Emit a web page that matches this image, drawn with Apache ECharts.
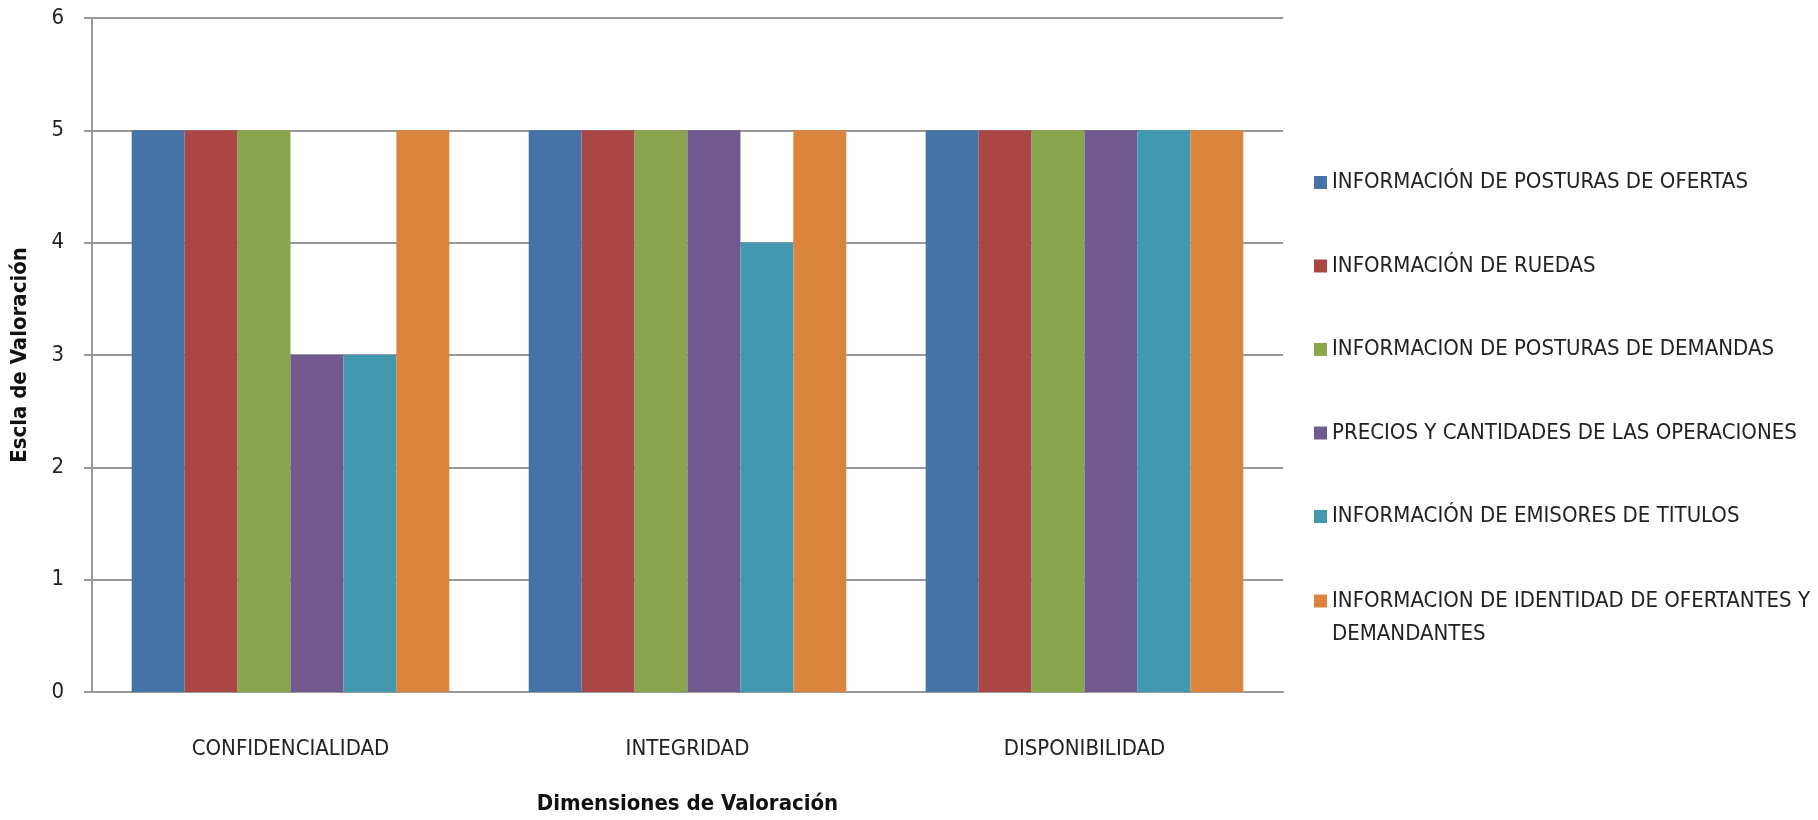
<!DOCTYPE html>
<html>
<head>
<meta charset="utf-8">
<script src="https://cdn.jsdelivr.net/npm/echarts@6/dist/echarts.min.js"></script>
<style>
  html, body { margin: 0; padding: 0; background: #fff; }
  #main { width: 1818px; height: 820px; }
</style>
</head>
<body>
<div id="main"></div>
<script>
  // datos del gráfico
  const dimensiones = ['CONFIDENCIALIDAD', 'INTEGRIDAD', 'DISPONIBILIDAD'];
  const activos = [
    'INFORMACIÓN DE POSTURAS DE OFERTAS',
    'INFORMACIÓN DE RUEDAS',
    'INFORMACION DE POSTURAS DE DEMANDAS',
    'PRECIOS Y CANTIDADES DE LAS OPERACIONES',
    'INFORMACIÓN DE EMISORES DE TITULOS',
    'INFORMACION DE IDENTIDAD DE OFERTANTES Y DEMANDANTES'
  ];
  const posturasOfertas = [5, 5, 5];
  const ruedas = [5, 5, 5];
  const posturasDemandas = [5, 5, 5];
  const preciosCantidades = [3, 5, 5];
  const emisoresTitulos = [3, 4, 5];
  const identidadOfertantes = [5, 5, 5];
  const valores = [posturasOfertas, ruedas, posturasDemandas, preciosCantidades, emisoresTitulos, identidadOfertantes];
  const colores = ['#4572A7', '#AA4643', '#89A54E', '#71588F', '#4198AF', '#DB843D'];

  const fuente = "'Liberation Sans Narrow', 'DejaVu Sans Condensed', 'Liberation Sans', sans-serif";
  const chart = echarts.init(document.getElementById('main'));

  const legendBase = {
    orient: 'vertical',
    left: 1309,
    itemWidth: 13,
    itemHeight: 13,
    icon: 'rect',
    selectedMode: false,
    textStyle: { fontFamily: fuente, fontSize: 22, color: '#222', lineHeight: 33 }
  };

  chart.setOption({
    animation: false,
    color: colores,
    grid: { left: 92, right: 535, top: 18, bottom: 116 },
    legend: [
      Object.assign({}, legendBase, {
        top: 161,
        itemGap: 50.5,
        data: activos.slice(0, 5)
      }),
      // la última entrada va en dos líneas, con el marcador junto a la primera
      Object.assign({}, legendBase, {
        top: 546.5,
        data: [activos[5]],
        formatter: function (n) {
          return ' \n' + n.replace('OFERTANTES Y ', 'OFERTANTES Y\n');
        }
      })
    ],
    xAxis: {
      type: 'category',
      data: dimensiones,
      name: 'Dimensiones de Valoración',
      nameLocation: 'middle',
      nameGap: 101,
      nameTextStyle: { fontFamily: fuente, fontSize: 22, fontWeight: 'bold', color: '#111' },
      axisLine: { lineStyle: { color: '#999', width: 2 } },
      axisTick: { show: false },
      axisLabel: { fontFamily: fuente, fontSize: 22, color: '#222', margin: 46 }
    },
    yAxis: {
      type: 'value',
      min: 0,
      max: 6,
      interval: 1,
      name: 'Escla de Valoración',
      nameLocation: 'middle',
      nameGap: 61,
      nameTextStyle: { fontFamily: fuente, fontSize: 22, fontWeight: 'bold', color: '#111' },
      axisLine: { show: true, lineStyle: { color: '#999', width: 2 } },
      axisTick: { show: true, length: 8, lineStyle: { color: '#999', width: 2 } },
      axisLabel: { fontFamily: fuente, fontSize: 22, color: '#222', margin: 28 },
      splitLine: { lineStyle: { color: '#999', width: 2 } }
    },
    series: activos.map(function (nombre, i) {
      return {
        name: nombre,
        type: 'bar',
        data: valores[i],
        barGap: '0%',
        barCategoryGap: '20%'
      };
    })
  });
</script>
</body>
</html>
